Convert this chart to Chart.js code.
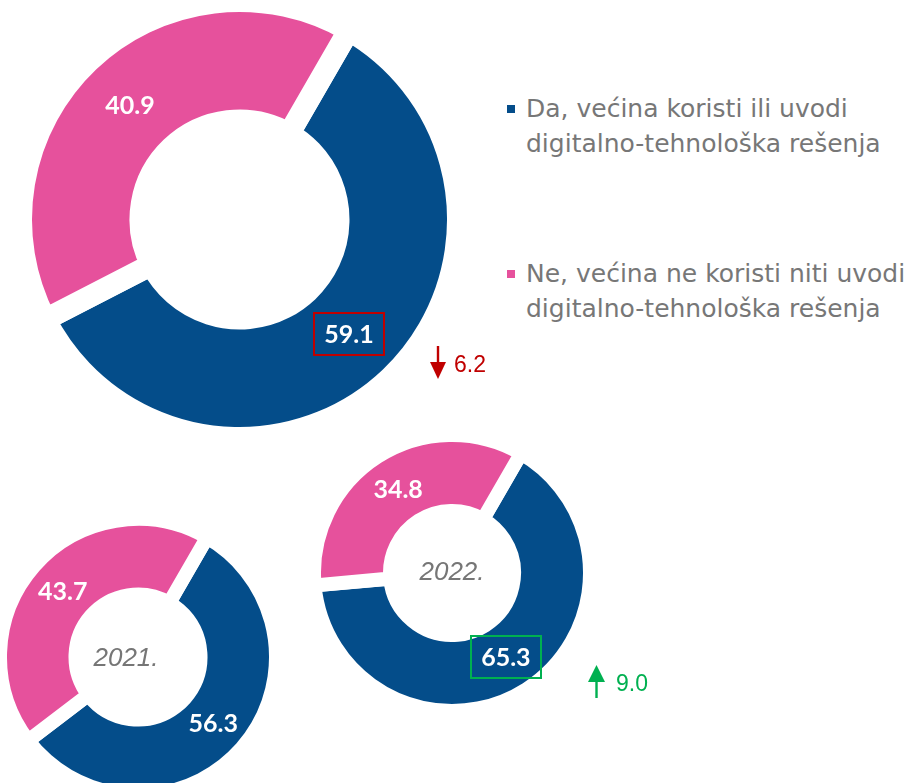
<!DOCTYPE html>
<html><head><meta charset="utf-8">
<script src="https://cdn.jsdelivr.net/npm/chart.js@4/dist/chart.umd.min.js"></script>
<style>
html,body{margin:0;padding:0;width:912px;height:783px;overflow:hidden;background:#fff;}
.wrap{position:absolute;}
.leg{position:absolute;left:507px;font-family:'DejaVu Sans',sans-serif;color:#777777;font-size:25px;line-height:35px;white-space:nowrap;}
.leg .sq{position:absolute;left:0;width:8px;height:8px;}
.leg .tx{position:absolute;left:19px;top:0;}
.delta{position:absolute;font-family:'Liberation Sans',sans-serif;font-size:23px;line-height:23px;white-space:nowrap;}
svg.arr{position:absolute;}
</style></head><body>

<div class="wrap" id="w0"><canvas id="c0"></canvas></div>
<div class="wrap" id="w1"><canvas id="c1"></canvas></div>
<div class="wrap" id="w2"><canvas id="c2"></canvas></div>

<div class="leg" id="leg0" style="top:91px;"><div class="sq" style="top:14px;background:#044D8A"></div><div class="tx" id="lt0"></div></div>
<div class="leg" id="leg1" style="top:256px;"><div class="sq" style="top:14px;background:#E6519C"></div><div class="tx" id="lt1"></div></div>

<svg class="arr" style="left:420px;top:340px" width="40" height="45"><rect x="16.8" y="6" width="2.4" height="20" fill="#C00000"/><polygon points="10,22 26,22 18,39" fill="#C00000"/></svg>
<div class="delta" id="d0" style="left:454px;top:353px;color:#C00000"></div>

<svg class="arr" style="left:578px;top:660px" width="40" height="45"><polygon points="10,22 27,22 18.5,5" fill="#00B050"/><rect x="17.3" y="20" width="2.4" height="18" fill="#00B050"/></svg>
<div class="delta" id="d1" style="left:616px;top:672px;color:#00B050"></div>

<script>
// ---- data ----
const categories = ['Da, većina koristi ili uvodi digitalno-tehnološka rešenja',
                    'Ne, većina ne koristi niti uvodi digitalno-tehnološka rešenja'];
const legendLines = [['Da, većina koristi ili uvodi', 'digitalno-tehnološka rešenja'],
                     ['Ne, većina ne koristi niti uvodi', 'digitalno-tehnološka rešenja']];
const yearLabels = ['', '2021.', '2022.'];
const values2023 = [59.1, 40.9];
const values2021 = [56.3, 43.7];
const values2022 = [65.3, 34.8];
const changes = [-6.2, 9.0]; // 2023 vs 2022, 2022 vs 2021

const BLUE = '#044D8A', PINK = '#E6519C';

document.getElementById('lt0').innerHTML = legendLines[0].join('<br>');
document.getElementById('lt1').innerHTML = legendLines[1].join('<br>');
document.getElementById('d0').textContent = Math.abs(changes[0]).toFixed(1);
document.getElementById('d1').textContent = Math.abs(changes[1]).toFixed(1);

const labelPlugin = {
  id: 'vlabels',
  afterDatasetsDraw(chart, args, opts) {
    const ctx = chart.ctx;
    const meta = chart.getDatasetMeta(0);
    const ds = chart.data.datasets[0];
    ctx.save();
    meta.data.forEach((arc, i) => {
      const p = arc.tooltipPosition();
      const txt = ds.data[i].toFixed(1);
      if (opts.box && opts.box.index === i) {
        ctx.strokeStyle = opts.box.color;
        ctx.lineWidth = 2;
        ctx.strokeRect(Math.round(p.x - 35), Math.round(p.y - 21), 70, 42);
      }
      ctx.fillStyle = '#fff';
      ctx.font = 'bold 25px Lato, "Liberation Sans", sans-serif';
      ctx.textAlign = 'center';
      ctx.textBaseline = 'middle';
      ctx.fillText(txt, p.x, p.y + 1);
    });
    if (opts.center) {
      const a = meta.data[0];
      ctx.fillStyle = '#767676';
      ctx.font = 'italic 26px "Liberation Sans", sans-serif';
      ctx.textAlign = 'center';
      ctx.textBaseline = 'middle';
      ctx.fillText(opts.center, a.x + (opts.dx || 0), a.y + (opts.dy || 0));
    }
    ctx.restore();
  }
};

// R: visible outer radius, rIn: visible inner radius, gap: white gap between slices
function makeChart(idx, values, cx, cy, R, rIn, gap, plugOpts) {
  const S = Math.round(2 * R + 2 * gap);
  const cut = (rIn - gap / 2) / (R + gap / 2);
  const w = document.getElementById('w' + idx);
  w.style.left = (cx - S / 2) + 'px';
  w.style.top = (cy - S / 2) + 'px';
  const cv = document.getElementById('c' + idx);
  cv.width = S; cv.height = S;
  cv.style.width = S + 'px'; cv.style.height = S + 'px';
  return new Chart(cv, {
    type: 'doughnut',
    data: {
      labels: categories,
      datasets: [{ data: values, backgroundColor: [BLUE, PINK], borderColor: '#ffffff',
                   borderWidth: gap, borderJoinStyle: 'miter', borderAlign: 'center' }]
    },
    options: {
      responsive: false,
      animation: false,
      devicePixelRatio: 1,
      rotation: 30,
      cutout: (cut * 100) + '%',
      layout: { padding: 0 },
      plugins: { legend: { display: false }, tooltip: { enabled: false }, vlabels: plugOpts }
    },
    plugins: [labelPlugin]
  });
}

makeChart(0, values2023, 239.5, 219, 207.5, 110, 22, { box: { index: 0, color: '#C00000' } });
makeChart(1, values2021, 137.5, 657, 131, 69.5, 14, { center: yearLabels[1], dx: -12, dy: 2 });
makeChart(2, values2022, 452, 573, 131, 69, 14, { box: { index: 0, color: '#00B050' }, center: yearLabels[2], dy: 0 });
</script>
</body></html>
